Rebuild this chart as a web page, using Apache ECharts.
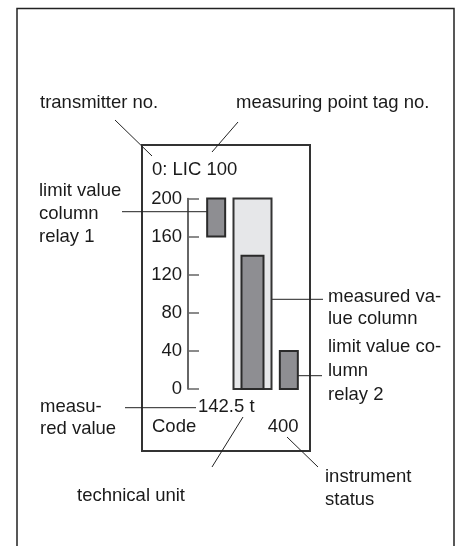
<!DOCTYPE html>
<html>
<head>
<meta charset="utf-8">
<script src="https://cdn.jsdelivr.net/npm/echarts@6/dist/echarts.min.js"></script>
<style>
html,body{margin:0;padding:0;background:#fff;}
#c{width:460px;height:546px;}
</style>
</head>
<body>
<div id="c"></div>
<script>
// ---- data ----
const columns = ['limit value relay 1', 'measured value column', 'limit value relay 2'];
const yTicks = [0, 40, 80, 120, 160, 200];
const relay1Range = [160, 200];
const columnRange = [0, 200];
const measuredBar = [0, 140];
const relay2Range = [0, 40];
const displayTag = '0: LIC 100';
const displayValue = '142.5 t';
const displayCodeLabel = 'Code';
const displayStatus = '400';

// ---- styles ----
const FONT = '"Liberation Sans", Arial, Helvetica, sans-serif';
const FS = 18.5;
const INK = '#1a1a1a';
const kinds = {
  relay:    { w: 18, fill: '#8e8e92', stroke: '#2a2a2a' },
  column:   { w: 38, fill: '#e6e7e9', stroke: '#333333' },
  measured: { w: 22, fill: '#8e8e92', stroke: '#2a2a2a' }
};
const seriesData = [
  [0, relay1Range[0], relay1Range[1], 'relay'],
  [1, columnRange[0], columnRange[1], 'column'],
  [1, measuredBar[0], measuredBar[1], 'measured'],
  [2, relay2Range[0], relay2Range[1], 'relay']
];

function txt(x, baseline, text, opts) {
  opts = opts || {};
  const lh = opts.lh || 23;
  return {
    type: 'text', silent: true,
    x: x, y: baseline - lh / 2 - 0.3465 * FS + 0.5,
    style: {
      text: text, fill: INK,
      fontSize: FS, fontFamily: FONT,
      lineHeight: lh, align: opts.align || 'left', verticalAlign: 'top'
    }
  };
}
function line(x1, y1, x2, y2, w) {
  return { type: 'line', silent: true,
    shape: { x1: x1, y1: y1, x2: x2, y2: y2 },
    style: { stroke: '#222', lineWidth: w || 1 } };
}

const chart = echarts.init(document.getElementById('c'), null, { renderer: 'canvas' });
chart.setOption({
  animation: false,
  backgroundColor: '#fff',
  grid: { left: 198, top: 198.5, width: 109, height: 190.5 },
  xAxis: { type: 'category', data: columns, show: false },
  yAxis: {
    type: 'value', min: 0, max: 200, interval: 40, offset: 10,
    axisLine: { show: true, lineStyle: { color: '#333', width: 1.5 } },
    axisTick: { show: true, inside: true, length: 11, lineStyle: { color: '#666', width: 1.5 } },
    axisLabel: { margin: 6, color: INK, fontSize: FS, fontFamily: FONT,
      verticalAlign: 'middle', padding: [0, 0, 9, 0],
      formatter: function (v) { return yTicks.indexOf(v) >= 0 ? String(v) : ''; } },
    splitLine: { show: false }
  },
  series: [{
    type: 'custom',
    data: seriesData,
    encode: { x: 0, y: [1, 2] },
    renderItem: function (params, api) {
      const cat = api.value(0);
      const k = kinds[seriesData[params.dataIndex][3]];
      const top = api.coord([cat, api.value(2)]);
      const bot = api.coord([cat, api.value(1)]);
      return {
        type: 'rect',
        shape: { x: top[0] - k.w / 2, y: top[1], width: k.w, height: bot[1] - top[1] },
        style: { fill: k.fill, stroke: k.stroke, lineWidth: 2 }
      };
    }
  }],
  graphic: [
    // outer frame (open at bottom)
    { type: 'polyline', silent: true, shape: { points: [[17, 546], [17, 8.5], [454, 8.5], [454, 546]] },
      style: { stroke: '#222', lineWidth: 1.5, fill: null } },
    // display box
    { type: 'rect', silent: true, shape: { x: 142, y: 145, width: 168, height: 306 },
      style: { stroke: '#333', lineWidth: 2, fill: null } },
    // leader lines
    line(115, 120, 152, 156),
    line(238, 122, 212, 152),
    line(122, 211.7, 212, 211.7),
    line(272, 299.3, 323, 299.3),
    line(294, 375.7, 322, 375.7),
    line(125, 407.7, 196, 407.7),
    line(243, 417, 212, 467),
    line(287, 437, 318, 467),
    // labels
    txt(40, 109, 'transmitter no.'),
    txt(236, 109, 'measuring point tag no.'),
    txt(152, 175.7, displayTag),
    txt(39, 197.3, 'limit value\ncolumn\nrelay 1'),
    txt(328, 303.3, 'measured va-\nlue column', { lh: 22 }),
    txt(328, 353, 'limit value co-\nlumn\nrelay 2', { lh: 23.7 }),
    txt(40, 413.3, 'measu-\nred value', { lh: 22 }),
    txt(198, 413.3, displayValue),
    txt(152, 433.3, displayCodeLabel),
    txt(298.5, 433.3, displayStatus, { align: 'right' }),
    txt(77, 501.7, 'technical unit'),
    txt(325, 483.3, 'instrument\nstatus')
  ]
});
</script>
</body>
</html>
